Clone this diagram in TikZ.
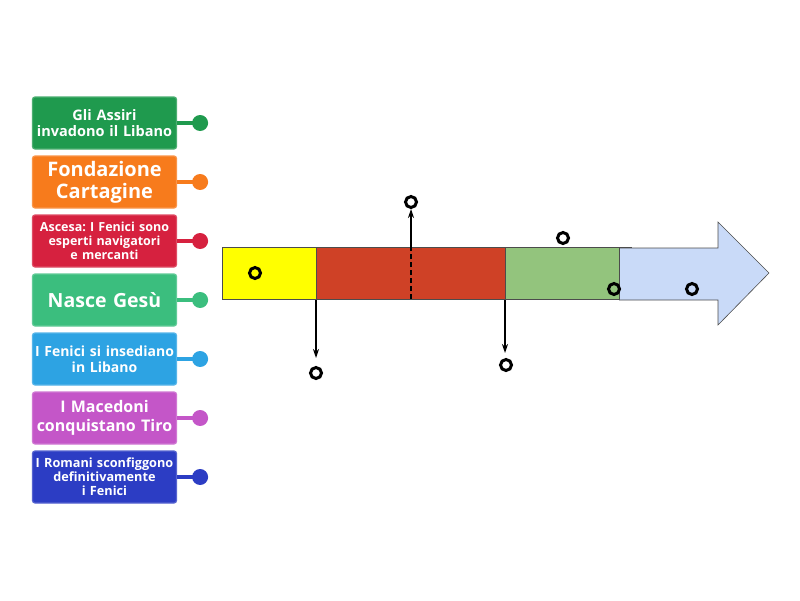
\documentclass[tikz,border=0pt]{standalone}
\usepackage{fontspec}
\setmainfont{Open Sans}
\usetikzlibrary{arrows.meta}
\frenchspacing
\definecolor{cA}{HTML}{1F9A4E}
\definecolor{cB}{HTML}{F77B1C}
\definecolor{cC}{HTML}{D6213F}
\definecolor{cD}{HTML}{3BBE7E}
\definecolor{cE}{HTML}{2DA3E3}
\definecolor{cF}{HTML}{C456C8}
\definecolor{cG}{HTML}{2C3DC4}
\definecolor{barY}{HTML}{FFFF00}
\definecolor{barR}{HTML}{CF4126}
\definecolor{barG}{HTML}{93C47D}
\definecolor{barB}{HTML}{C9DAF8}
\tikzset{
  card/.style={draw=#1!80!white, line width=1.2pt, fill=#1, rounded corners=2.5pt,
    minimum width=142pt, minimum height=52pt, inner sep=1pt, text=white,
    font=\bfseries, align=center, text width=142pt},
  pin/.style={line width=4.5pt, draw=#1},
  pindot/.style={fill=#1, draw=none, circle, minimum size=16pt, inner sep=0pt},
  ring/.style={draw=black, line width=3pt, circle, minimum size=11pt, inner sep=0pt, fill=none},
  barline/.style={draw=black!70, line width=0.6pt},
  marker/.style={draw=black, line width=1.2pt, -{Stealth[length=9pt,width=6pt]}},
}
\begin{document}
\begin{tikzpicture}[x=1pt,y=-1pt]
\useasboundingbox (0,0) rectangle (800,600);
% timeline bar
\fill[barB] (619,248) -- (718,248) -- (718,222) -- (769,273) -- (718,325) -- (718,300) -- (619,300) -- cycle;
\draw[barline] (619,248) -- (718,248) -- (718,222) -- (769,273) -- (718,325) -- (718,300) -- (619,300);
\filldraw[fill=barY, barline] (222,247) rectangle (316,299);
\filldraw[fill=barR, barline] (316,247) rectangle (505,299);
\filldraw[fill=barG, barline] (505,247) rectangle (619,299);
\draw[barline] (619,247) -- (632,247);
% markers
\coordinate (m1s) at (316,300); \coordinate (m1e) at (316,358);
\coordinate (m2s) at (505,300); \coordinate (m2e) at (505,353);
\coordinate (m3a) at (411,299); \coordinate (m3b) at (411,247); \coordinate (m3e) at (411,209);
\draw[marker] (m1s) -- (m1e);
\draw[marker] (m2s) -- (m2e);
\draw[black, line width=1.2pt, dash pattern=on 5pt off 3pt] (m3a) -- (m3b);
\draw[marker] (m3b) -- (m3e);
% rings
\node[ring] (r1) at (255,273) {};
\node[ring] (r2) at (316,373) {};
\node[ring] (r3) at (411,202) {};
\node[ring] (r4) at (506,365) {};
\node[ring] (r5) at (563,238) {};
\node[ring] (r6) at (614,289) {};
\node[ring] (r7) at (692,289) {};
% cards
\node[card=cA, font=\bfseries\fontsize{14.5}{16.5}\selectfont] (b1) at (104.5,123) {Gli Assiri\\invadono il Libano};
\node[card=cB, font=\bfseries\fontsize{20}{22}\selectfont] (b2) at (104.5,182) {Fondazione\\Cartagine};
\node[card=cC, font=\bfseries\fontsize{12.5}{14}\selectfont] (b3) at (104.5,241) {Ascesa: I Fenici sono\\esperti navigatori\\e mercanti};
\node[card=cD, font=\bfseries\fontsize{19.5}{22}\selectfont] (b4) at (104.5,300) {Nasce Gesù};
\node[card=cE, font=\bfseries\fontsize{14}{16}\selectfont] (b5) at (104.5,359) {I Fenici si insediano\\in Libano};
\node[card=cF, font=\bfseries\fontsize{16}{18.5}\selectfont] (b6) at (104.5,418) {I Macedoni\\conquistano Tiro};
\node[card=cG, font=\bfseries\fontsize{12.7}{14}\selectfont] (b7) at (104.5,477) {I Romani sconfiggono\\definitivamente\\i Fenici};
% pins
\foreach \i/\c in {1/cA,2/cB,3/cC,4/cD,5/cE,6/cF,7/cG}{
  \node[pindot=\c] (d\i) at ([xshift=23pt]b\i.east) {};
  \draw[pin=\c] (b\i.east) -- (d\i.center);
}
\end{tikzpicture}
\end{document}
